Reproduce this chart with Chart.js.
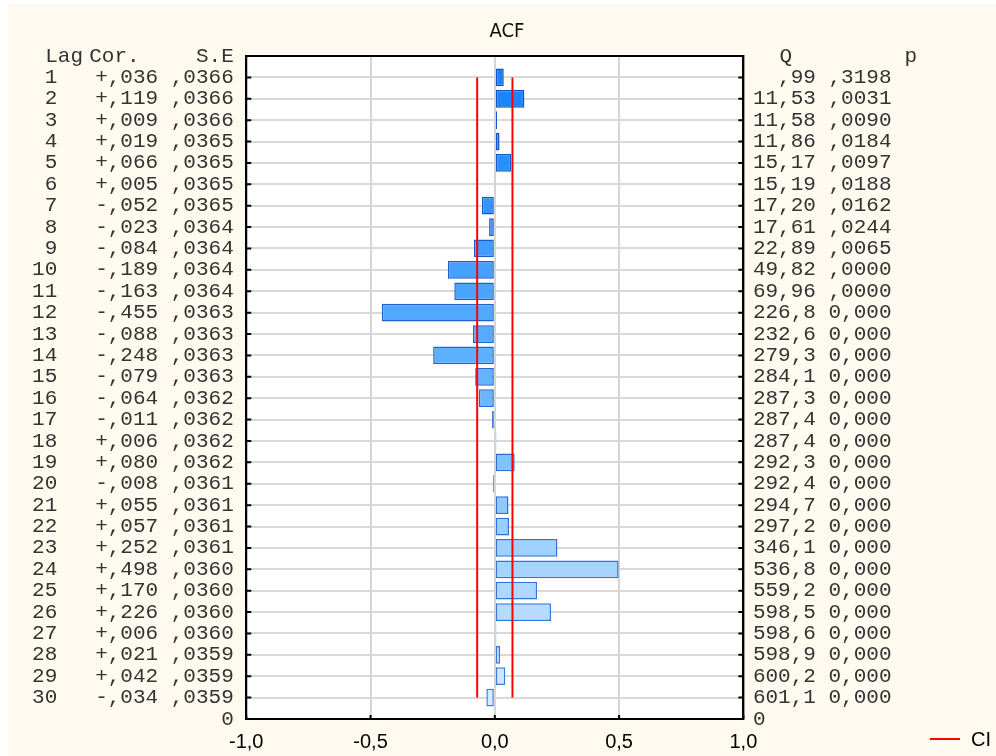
<!DOCTYPE html>
<html>
<head>
<meta charset="utf-8">
<title>ACF</title>
<script src="https://cdn.jsdelivr.net/npm/chart.js@4.4.1/dist/chart.umd.min.js"></script>
<style>
  html, body { margin: 0; padding: 0; background: #fff; }
  #acf { display: block; }
</style>
</head>
<body>
<canvas id="acf" width="996" height="756" style="width:996px;height:756px"></canvas>
<script>
const lags = [1, 2, 3, 4, 5, 6, 7, 8, 9, 10, 11, 12, 13, 14, 15,
              16, 17, 18, 19, 20, 21, 22, 23, 24, 25, 26, 27, 28, 29, 30];

const corValues = [0.036, 0.119, 0.009, 0.019, 0.066, 0.005, -0.052, -0.023, -0.084, -0.189,
                   -0.163, -0.455, -0.088, -0.248, -0.079, -0.064, -0.011, 0.006, 0.080, -0.008,
                   0.055, 0.057, 0.252, 0.498, 0.170, 0.226, 0.006, 0.021, 0.042, -0.034];

const seLabels = [',0366', ',0366', ',0366', ',0365', ',0365', ',0365', ',0365', ',0364', ',0364', ',0364',
                  ',0364', ',0363', ',0363', ',0363', ',0363', ',0362', ',0362', ',0362', ',0362', ',0361',
                  ',0361', ',0361', ',0361', ',0360', ',0360', ',0360', ',0360', ',0359', ',0359', ',0359'];

const qLabels = [',99', '11,53', '11,58', '11,86', '15,17', '15,19', '17,20', '17,61', '22,89', '49,82',
                 '69,96', '226,8', '232,6', '279,3', '284,1', '287,3', '287,4', '287,4', '292,3', '292,4',
                 '294,7', '297,2', '346,1', '536,8', '559,2', '598,5', '598,6', '598,9', '600,2', '601,1'];

const pLabels = [',3198', ',0031', ',0090', ',0184', ',0097', ',0188', ',0162', ',0244', ',0065', ',0000',
                 ',0000', '0,000', '0,000', '0,000', '0,000', '0,000', '0,000', '0,000', '0,000', '0,000',
                 '0,000', '0,000', '0,000', '0,000', '0,000', '0,000', '0,000', '0,000', '0,000', '0,000'];

const xTicks = [-1, -0.5, 0, 0.5, 1];
const ciBound = 0.071;      // +/- confidence limit
const ciLags  = [1, 30];

/* ---------- helpers ---------- */
const MONO = "'Liberation Mono', 'Courier New', monospace";
const SANS = "'Liberation Sans', Arial, sans-serif";
const LAST = lags.length + 1;   // bottom row of the y axis ("0")

function corLabel(c) {
  return (c < 0 ? '-' : '+') + ',' + Math.abs(c).toFixed(3).slice(2);
}

function barFill(i) {
  const t = i / (lags.length - 1);
  const r = Math.round(26 + 190 * Math.pow(t, 1.3));
  const g = Math.round(128 + 106 * t);
  return `rgb(${r},${g},255)`;
}

function barEdge(i) {
  const t = i / (lags.length - 1);
  return `rgb(${Math.round(16 + 40 * t)},${Math.round(80 + 45 * t)},${Math.round(200 + 25 * t)})`;
}

const gridColor = ctx =>
  (ctx.tick && (ctx.tick.value === 0 || ctx.tick.value === LAST)) ? 'rgba(0,0,0,0)' : '#d9d9d9';

/* ---------- frame, headers, title and legend ---------- */
const framePlugin = {
  id: 'frame',
  beforeDraw(chart) {
    const { ctx, chartArea: a, width, height } = chart;
    ctx.save();
    ctx.fillStyle = '#fff';
    ctx.fillRect(0, 0, width, height);
    ctx.fillStyle = '#fffaf0';
    ctx.fillRect(8, 4, width - 8, height - 4);
    ctx.fillStyle = '#fff';
    ctx.fillRect(a.left, a.top, a.right - a.left, a.bottom - a.top);
    ctx.restore();
  },
  afterDraw(chart) {
    const { ctx, chartArea: a, scales } = chart;
    const y = scales.y, x = scales.x;
    ctx.save();

    // inside tick stubs
    ctx.strokeStyle = '#000';
    ctx.lineWidth = 2;
    ctx.beginPath();
    lags.forEach(l => {
      const py = y.getPixelForValue(l);
      ctx.moveTo(a.left, py);  ctx.lineTo(a.left + 5, py);
      ctx.moveTo(a.right - 5, py); ctx.lineTo(a.right, py);
    });
    xTicks.forEach(v => {
      const px = x.getPixelForValue(v);
      ctx.moveTo(px, a.bottom); ctx.lineTo(px, a.bottom - 4);
    });
    ctx.stroke();
    ctx.strokeRect(a.left, a.top, a.right - a.left, a.bottom - a.top);

    // table headers
    const hy = y.getPixelForValue(0);
    ctx.fillStyle = '#333';
    ctx.font = `21px ${MONO}`;
    ctx.textBaseline = 'middle';
    ctx.textAlign = 'left';
    ctx.fillText('Lag', a.left - 201, hy);
    ctx.fillText('Cor.', a.left - 157, hy);
    ctx.fillText('Q', a.right + 36, hy);
    ctx.fillText('p', a.right + 161, hy);
    ctx.textAlign = 'right';
    ctx.fillText('S.E', a.left - 12.5, hy);

    // title
    ctx.fillStyle = '#111';
    ctx.textAlign = 'center';
    ctx.font = `20px 'Liberation Sans Narrow', 'DejaVu Sans Condensed', ${SANS}`;
    ctx.fillText('ACF', 507, 32);

    // legend
    ctx.strokeStyle = '#ff0000';
    ctx.lineWidth = 2;
    ctx.beginPath();
    ctx.moveTo(930, 739); ctx.lineTo(960, 739);
    ctx.stroke();
    ctx.fillStyle = '#000';
    ctx.textAlign = 'left';
    ctx.font = `20px ${SANS}`;
    ctx.fillText('CI', 971, 740);
    ctx.restore();
  }
};

/* ---------- chart ---------- */
new Chart(document.getElementById('acf'), {
  type: 'bar',
  data: {
    datasets: [
      {
        type: 'line',
        label: 'CI',
        data: ciLags.map(l => ({ x: ciBound, y: l })),
        borderColor: '#ff0000',
        borderWidth: 2,
        pointRadius: 0,
        order: 0,
      },
      {
        type: 'line',
        label: 'CI-',
        data: ciLags.map(l => ({ x: -ciBound, y: l })),
        borderColor: '#ff0000',
        borderWidth: 2,
        pointRadius: 0,
        order: 0,
      },
      {
        label: 'ACF',
        data: lags.map((l, i) => ({ x: corValues[i], y: l })),
        backgroundColor: lags.map((l, i) => barFill(i)),
        borderColor: lags.map((l, i) => barEdge(i)),
        borderWidth: 1.5,
        borderSkipped: false,
        barPercentage: 0.83,
        categoryPercentage: 1,
        order: 1,
      },
    ],
  },
  options: {
    responsive: false,
    animation: false,
    indexAxis: 'y',
    layout: { padding: { left: 28, right: 95, top: 56, bottom: -9 } },
    plugins: {
      legend: { display: false },
      tooltip: { enabled: false },
    },
    scales: {
      x: {
        type: 'linear',
        min: -1,
        max: 1,
        afterBuildTicks: s => { s.ticks = xTicks.map(v => ({ value: v })); },
        grid: { color: '#d6d6d6', lineWidth: 2, drawTicks: false },
        border: { color: '#000', width: 2 },
        ticks: {
          autoSkip: false,
          padding: 11,
          color: '#000',
          font: { family: SANS, size: 20 },
          callback: v => v.toFixed(1).replace('.', ','),
        },
      },
      y: {
        type: 'linear',
        position: 'left',
        reverse: true,
        offset: false,
        min: 0,
        max: LAST,
        afterBuildTicks: s => { s.ticks = [0, ...lags, LAST].map(v => ({ value: v })); },
        grid: { color: gridColor, lineWidth: 2, drawTicks: false, offset: false },
        border: { color: '#000', width: 2 },
        ticks: {
          autoSkip: false,
          padding: 12.5,
          color: '#333',
          font: { family: MONO, size: 21 },
          callback: v => {
            if (v === 0) return '';
            if (v === LAST) return '0';
            const i = v - 1;
            return `${String(v).padStart(2)}   ${corLabel(corValues[i])} ${seLabels[i]}`;
          },
        },
      },
      y2: {
        type: 'linear',
        position: 'right',
        reverse: true,
        offset: false,
        min: 0,
        max: LAST,
        afterBuildTicks: s => { s.ticks = [0, ...lags, LAST].map(v => ({ value: v })); },
        grid: { drawOnChartArea: false, drawTicks: false, offset: false },
        border: { color: '#000', width: 2 },
        ticks: {
          autoSkip: false,
          padding: 9.5,
          color: '#333',
          font: { family: MONO, size: 21 },
          callback: v => {
            if (v === 0) return '';
            if (v === LAST) return '0';
            const i = v - 1;
            return `${qLabels[i].padStart(5)} ${pLabels[i]}`;
          },
        },
      },
    },
  },
  plugins: [framePlugin],
});
</script>
</body>
</html>
